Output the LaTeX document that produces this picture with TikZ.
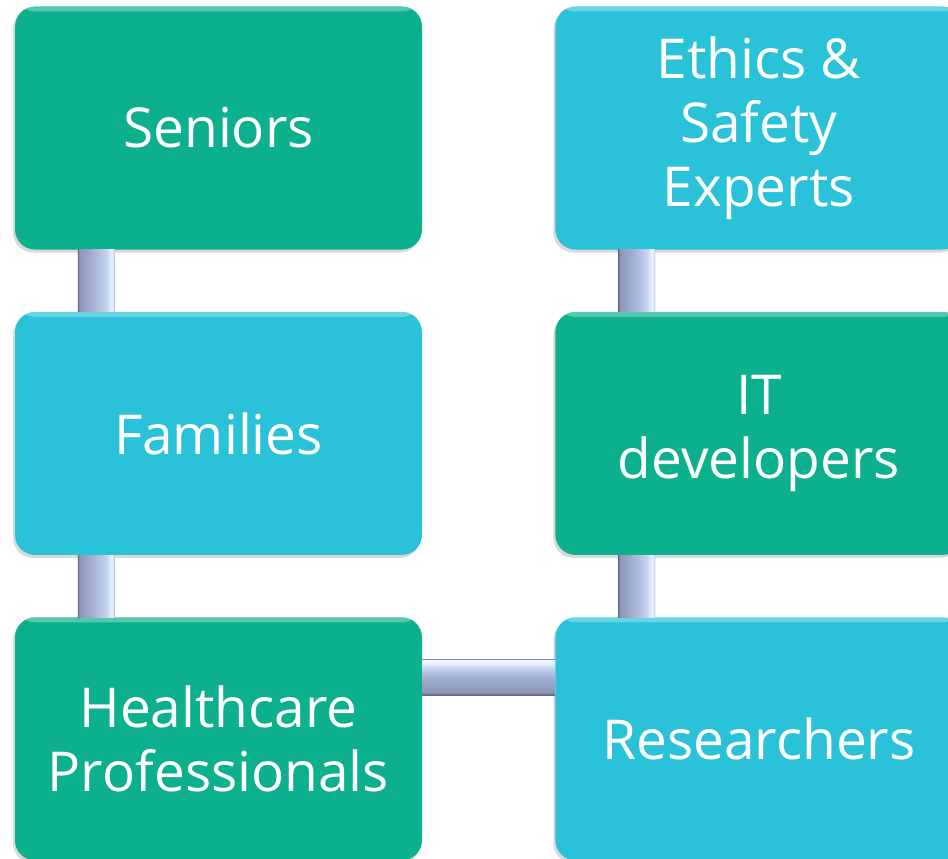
\documentclass[tikz,border=0pt]{standalone}
\usepackage{fontspec}
\setmainfont{Open Sans}
\usetikzlibrary{positioning,shadows,calc}

\definecolor{grp}{RGB}{12,176,140}
\definecolor{cyp}{RGB}{41,194,217}
\definecolor{baredge}{RGB}{98,104,128}
\definecolor{bardark}{RGB}{140,150,182}
\definecolor{barmid}{RGB}{163,176,212}
\definecolor{barlight}{RGB}{198,212,240}
\definecolor{barshine}{RGB}{236,244,255}

\pgfdeclarehorizontalshading{vbar}{100bp}{color(0bp)=(baredge); color(25bp)=(baredge); color(27bp)=(bardark); color(45bp)=(barmid); color(64bp)=(barlight); color(71bp)=(barshine); color(74bp)=(barlight); color(75bp)=(baredge); color(100bp)=(baredge)}
\pgfdeclareverticalshading{hbar}{100bp}{color(0bp)=(baredge); color(25bp)=(baredge); color(29bp)=(bardark); color(50bp)=(barmid); color(63bp)=(barlight); color(70bp)=(barshine); color(74bp)=(barshine); color(75bp)=(bardark); color(100bp)=(bardark)}

\tikzset{
  party/.style={rounded corners=20pt, fill=#1, minimum width=407pt, minimum height=243pt,
    inner sep=0pt, text=white, align=center, font=\fontsize{55}{64}\selectfont,
    drop shadow={opacity=0.3, shadow xshift=-2pt, shadow yshift=-3pt},
    path picture={\fill[white, opacity=0.3] (path picture bounding box.north west) rectangle ([yshift=-5pt]path picture bounding box.north east);}},
  vlink/.style={shading=vbar},
  hlink/.style={shading=hbar}
}

\begin{document}
\begin{tikzpicture}[x = 1pt, y = -1pt]
\useasboundingbox (0,0) rectangle (948,859);
\clip (0,0) rectangle (948,859);

% left column
\node[party=grp] (seniors) at (218.5,128) {Seniors};
\node[party=cyp, below=62pt of seniors] (families) {Families};
\node[party=grp, below=62pt of families] (health) {Healthcare\\Professionals};

% right column
\node[party=cyp, right=133pt of seniors] (ethics) {Ethics \&\\Safety\\Experts};
\node[party=grp, below=62pt of ethics] (itdev) {IT\\developers};
\node[party=cyp, below=62pt of itdev] (research) {Researchers};

% links
\path[vlink] ($(seniors.south west)+(63,0)$) rectangle ($(families.north west)+(100,0)$);
\path[vlink] ($(families.south west)+(63,0)$) rectangle ($(health.north west)+(100,0)$);
\path[vlink] ($(ethics.south west)+(63,0)$) rectangle ($(itdev.north west)+(100,0)$);
\path[vlink] ($(itdev.south west)+(63,0)$) rectangle ($(research.north west)+(100,0)$);
\path[hlink] ($(health.north east)+(0,42)$) rectangle ($(research.north west)+(0,78)$);
\end{tikzpicture}
\end{document}
